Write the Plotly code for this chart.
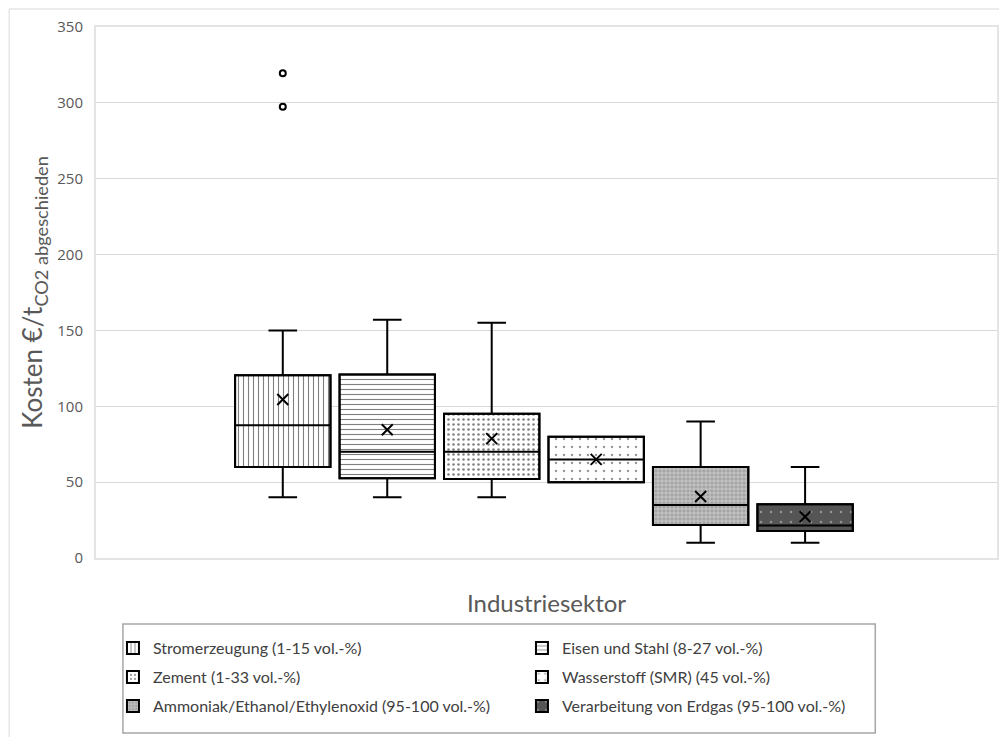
import plotly.graph_objects as go

# ---- data ----
categories = [
    "Stromerzeugung (1-15 vol.-%)",
    "Eisen und Stahl (8-27 vol.-%)",
    "Zement (1-33 vol.-%)",
    "Wasserstoff (SMR) (45 vol.-%)",
    "Ammoniak/Ethanol/Ethylenoxid (95-100 vol.-%)",
    "Verarbeitung von Erdgas (95-100 vol.-%)",
]
lower_whisker = [40, 40, 40, 50, 10, 10]
q1_values = [60, 52.5, 52, 50, 21.7, 17.8]
median_values = [87.5, 70, 70, 65, 35, 21.5]
q3_values = [120.5, 121, 95, 80, 60, 35.5]
upper_whisker = [150, 157, 155, 80, 90, 60]
mean_values = [104.5, 84.5, 78.7, 65, 40.5, 27.2]
outlier_values = [[297.5, 319.5], [], [], [], [], []]
y_ticks = [0, 50, 100, 150, 200, 250, 300, 350]

# ---- styles ----
patterns = [
    dict(shape="|", fgcolor="black", bgcolor="white", size=5, solidity=0.22),
    dict(shape="-", fgcolor="black", bgcolor="white", size=5, solidity=0.22),
    dict(shape=".", fgcolor="black", bgcolor="white", size=5, solidity=0.2),
    dict(shape=".", fgcolor="#333333", bgcolor="white", size=8, solidity=0.08),
    dict(shape="+", fgcolor="white", bgcolor="#a3a3a3", size=4, solidity=0.35),
    dict(shape=".", fgcolor="#d0d0d0", bgcolor="#555555", size=10, solidity=0.05),
]
BOX_W = 0.913
FONT = "Lato"
GREY = "#595959"
legend_names = ["legend", "legend2", "legend3"]

fig = go.Figure()
positions = list(range(1, len(categories) + 1))

for i, name in enumerate(categories):
    pos = positions[i]
    fig.add_trace(go.Bar(
        x=[pos], y=[q3_values[i] - q1_values[i]], base=[q1_values[i]],
        width=BOX_W, name=name, legend=legend_names[i // 2],
        marker=dict(color=patterns[i]["bgcolor"], pattern=patterns[i],
                    line=dict(color="black", width=2)),
        showlegend=True,
    ))
    fig.add_trace(go.Box(
        x=[pos], q1=[q1_values[i]], median=[median_values[i]], q3=[q3_values[i]],
        lowerfence=[lower_whisker[i]], upperfence=[upper_whisker[i]],
        width=BOX_W, whiskerwidth=0.3, fillcolor="rgba(0,0,0,0)",
        line=dict(color="black", width=2), boxpoints=False,
        showlegend=False, hoverinfo="skip",
    ))
    fig.add_trace(go.Scatter(
        x=[pos], y=[mean_values[i]], mode="markers",
        marker=dict(symbol="x-thin", size=11, line=dict(color="black", width=2)),
        showlegend=False, hoverinfo="skip",
    ))
    if outlier_values[i]:
        fig.add_trace(go.Scatter(
            x=[pos] * len(outlier_values[i]), y=outlier_values[i], mode="markers",
            marker=dict(symbol="circle-open", size=6, color="black",
                        line=dict(color="black", width=2)),
            showlegend=False, hoverinfo="skip",
        ))

# page offset of the figure div (browser body margin)
OFF = 8
# plot area in page pixels: x 96..999, y 27..558
L, R, T, B = 96, 999, 27, 558
W, H = R - L, B - T
FIG_W, FIG_H = 1007 - OFF, 737 - OFF


def px_x(p):
    return (p - L) / W


def px_y(p):
    return (B - p) / H


legend_common = dict(
    orientation="h", xanchor="left", yanchor="middle",
    entrywidth=364, entrywidthmode="pixels",
    font=dict(size=16, color="#404040", family=FONT),
    bgcolor="rgba(0,0,0,0)", borderwidth=0, itemclick=False,
)
row_y = [648, 677, 706]

fig.update_layout(
    width=FIG_W, height=FIG_H,
    margin=dict(l=L - OFF, r=FIG_W - (R - OFF), t=T - OFF, b=FIG_H - (B - OFF)),
    paper_bgcolor="white", plot_bgcolor="white",
    barmode="overlay", boxmode="overlay",
    font=dict(family=FONT, color=GREY),
    xaxis=dict(
        range=[-0.788, 7.837], showticklabels=False, showgrid=False, zeroline=False,
        showline=True, mirror=True, linecolor="#e4e4e4", linewidth=2,
        title=dict(text="Industriesektor", font=dict(size=24, color=GREY), standoff=36),
        fixedrange=True,
    ),
    yaxis=dict(
        range=[0, 350], tickvals=y_ticks, showgrid=True, gridcolor="#d9d9d9", gridwidth=1,
        zeroline=False, showline=True, mirror=True, linecolor="#e4e4e4", linewidth=2,
        ticks="outside", ticklen=8, tickcolor="rgba(0,0,0,0)",
        tickfont=dict(size=15, color=GREY, family="Open Sans"),
        title=dict(text="Kosten €/t<sub>CO2 abgeschieden</sub>",
                   font=dict(size=26, color=GREY), standoff=7),
    ),
    legend=dict(legend_common, x=px_x(113), y=px_y(row_y[0])),
    legend2=dict(legend_common, x=px_x(113), y=px_y(row_y[1])),
    legend3=dict(legend_common, x=px_x(113), y=px_y(row_y[2])),
    shapes=[
        dict(type="rect", xref="paper", yref="paper",
             x0=px_x(123), x1=px_x(877), y0=px_y(733), y1=px_y(624),
             line=dict(color="#a6a6a6", width=1.5), fillcolor="rgba(0,0,0,0)"),
        dict(type="line", xref="paper", yref="paper",
             x0=px_x(9), x1=px_x(1004), y0=px_y(9), y1=px_y(9),
             line=dict(color="#d9d9d9", width=1)),
        dict(type="line", xref="paper", yref="paper",
             x0=px_x(9), x1=px_x(9), y0=px_y(9), y1=px_y(737),
             line=dict(color="#d9d9d9", width=1)),
    ],
)

fig.write_html("out.html")
